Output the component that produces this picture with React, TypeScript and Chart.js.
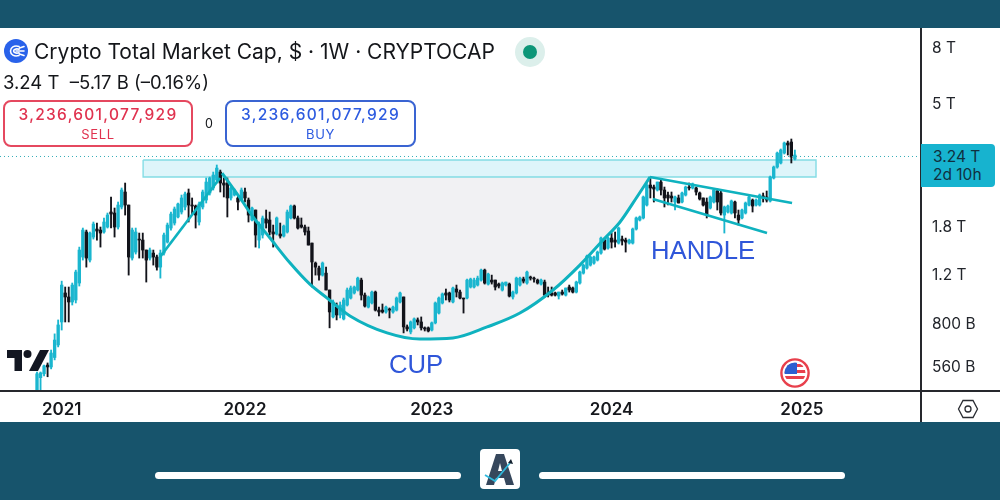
import React, { useEffect, useRef } from "react";
import { Chart, registerables } from "chart.js";

Chart.register(...registerables);

// Weekly candles, billions of USD. Candle k sits on week firstCandleWeek + k.
const firstCandleWeek = 10;
const totalWeeks = 261;

const opens = [
  463,513,530,570,561,607,674,816,1039,1005,
  964,980,1129,1402,1727,1367,1656,1770,1755,1727,
  1800,2040,2023,1800,2127,2410,2162,1390,1461,1628,
  1615,1486,1390,1449,1402,1289,1449,1588,1785,1861,
  1957,2040,2127,2390,2162,2144,1877,2127,2254,2390,
  2492,2663,2846,2597,2597,2293,2350,2293,2254,2410,
  2254,1908,2074,1615,1684,1925,1908,1727,1698,1698,
  1670,1727,1941,2144,1941,1830,1800,1741,1575,1333,
  1279,1206,1226,1065,851,924,865,837,940,996,
  1039,1065,1157,1021,924,956,1047,901,901,887,
  909,887,901,964,1005,783,751,777,830,816,
  777,777,763,810,879,956,1039,1039,964,1074,
  1047,996,996,1092,1092,1110,1157,1257,1119,1157,
  1157,1119,1065,1110,1119,1005,1039,1110,1167,1129,
  1186,1176,1157,1119,1138,1039,1039,1039,1013,1047,
  1021,1092,1083,1047,1129,1226,1279,1311,1333,1367,
  1449,1615,1511,1642,1615,1575,1628,1615,1575,1575,
  1770,1908,1941,2162,2554,2512,2450,2619,2450,2350,
  2331,2217,2293,2217,2350,2512,2492,2492,2390,2293,
  2217,2109,2217,2430,2390,1989,2040,2023,2217,1989,
  1941,2023,2162,2254,2162,2162,2331,2312,2236,2708,
  2967,3069,3335,3625,3655,3173,
];
const closes = [
  530,534,566,561,630,702,796,1110,1005,964,
  1110,1237,1486,1755,1390,1712,1846,1741,1712,1877,
  1989,2006,1800,2162,2450,2162,1402,1755,1727,1615,
  1486,1367,1486,1402,1289,1449,1684,1830,2006,2092,
  2181,2293,2370,2162,2144,1989,2181,2410,2619,2708,
  2776,2942,2597,2554,2293,2492,2450,2217,2450,2293,
  1989,2109,1684,1846,1941,1861,1727,1698,1941,1670,
  1815,2040,2144,1941,1785,1800,1727,1549,1345,1289,
  1206,1333,1065,887,964,865,940,980,1065,1083,
  1092,1176,1021,932,1005,1047,901,887,887,924,
  901,924,996,1039,783,770,816,837,816,777,
  770,757,810,956,996,1030,1021,980,1083,1047,
  996,988,1157,1167,1157,1176,1257,1129,1216,1138,
  1092,1101,1129,1138,1013,1047,1176,1176,1147,1237,
  1176,1167,1129,1157,1021,1021,1021,1021,1047,1030,
  1083,1065,1047,1138,1237,1311,1413,1402,1402,1461,
  1642,1498,1642,1588,1588,1785,1602,1588,1615,1770,
  1941,1957,2312,2554,2492,2471,2619,2450,2293,2293,
  2293,2312,2199,2390,2512,2492,2575,2410,2274,2162,
  1989,2312,2450,2217,2023,2127,2144,2236,2023,1908,
  2074,2199,2312,2144,2254,2350,2293,2254,2730,2967,
  3335,3419,3625,3565,3226,3280,
];
const highs = [
  538,538,570,580,646,739,830,1147,1092,1092,
  1129,1257,1523,1785,1755,1727,1877,1861,1800,1941,
  2023,2312,2109,2217,2492,2597,2162,1785,1785,1712,
  1712,1486,1511,1486,1425,1486,1712,1861,2040,2127,
  2199,2350,2410,2471,2293,2162,2217,2450,2708,2730,
  2846,3018,2894,2708,2708,2512,2471,2350,2492,2492,
  2293,2127,2074,1877,1973,2074,2040,1830,1957,1861,
  1830,2074,2162,2162,1973,1941,1830,1800,1575,1345,
  1300,1345,1289,1065,980,956,964,996,1083,1101,
  1101,1186,1176,1039,1013,1056,1056,924,948,932,
  917,932,1005,1047,1005,796,823,844,844,851,
  783,783,816,964,1005,1039,1074,1047,1092,1110,
  1065,996,1167,1176,1176,1196,1268,1268,1226,1206,
  1157,1129,1138,1138,1129,1056,1186,1186,1186,1247,
  1196,1186,1167,1167,1157,1092,1092,1047,1047,1065,
  1083,1110,1092,1147,1247,1322,1425,1413,1413,1474,
  1656,1642,1656,1712,1727,1800,1670,1642,1628,1785,
  1957,1973,2331,2597,2730,2554,2619,2663,2512,2410,
  2410,2331,2350,2410,2533,2597,2597,2512,2410,2293,
  2293,2331,2471,2471,2450,2144,2162,2254,2236,2074,
  2092,2217,2331,2274,2274,2370,2390,2430,2753,2992,
  3362,3449,3655,3685,3748,3419,
];
const lows = [
  455,463,521,517,552,595,663,763,816,816,
  940,956,1101,1367,1289,1345,1628,1615,1523,1712,
  1785,1785,1656,1770,2092,1989,1206,1367,1437,1390,
  1390,1138,1367,1311,1257,1176,1425,1575,1755,1830,
  1941,2006,2074,1877,1989,1785,1830,2092,2199,2350,
  2450,2597,2410,2312,1957,2254,2331,2074,2236,2217,
  1877,1893,1523,1511,1642,1785,1684,1523,1684,1642,
  1656,1712,1925,1925,1770,1785,1684,1549,1092,1206,
  1157,1196,1065,777,844,830,844,830,932,988,
  1030,1056,980,924,917,948,894,858,879,879,
  844,879,894,956,745,757,739,770,796,763,
  757,751,757,803,872,948,980,964,956,1005,
  988,879,988,1083,1083,1101,1147,1119,1110,1119,
  1065,1083,1056,1101,1005,988,1030,1101,1129,1119,
  1157,1138,1119,1110,1005,1005,1013,1013,988,1021,
  1013,1047,1039,1039,1119,1216,1268,1300,1322,1356,
  1437,1486,1498,1511,1523,1562,1549,1461,1562,1562,
  1755,1893,1925,2144,2293,2217,2430,2350,2127,2162,
  2217,2074,2199,2199,2331,2450,2471,2350,2254,2144,
  1941,2092,2199,2074,1989,1712,2023,2006,1941,1830,
  1925,2006,2144,2040,2144,2144,2217,2217,2217,2686,
  2940,3044,3307,3280,3069,3146,
];

// Axis ticks
const yearWeeks = [17, 69, 122, 173, 227];
const yearLabels = ["2021", "2022", "2023", "2024", "2025"];
const priceTicks = [560, 800, 1200, 1800, 5000, 8000];
const priceTickLabels = ["560 B", "800 B", "1.2 T", "1.8 T", "5 T", "8 T"];
const priceMin = 463;
const priceMax = 9451;

// Drawn pattern: week / price pairs
const cupWeeks = [62.5, 67.6, 71.3, 76.1, 81.8, 87.4, 92.3, 98.8, 109.3, 118.6, 128, 137.7, 147, 156.4, 164, 170.6, 175.4, 180.2, 183.9];
const cupPrices = [2823, 2293, 1957, 1642, 1333, 1118, 996, 858, 745, 708, 714, 783, 879, 1065, 1311, 1615, 1877, 2312, 2730];
const riseWeeks = [44.9, 61.9];
const risePrices = [1402, 2708];
const handleTopWeeks = [183.9, 224.2];
const handleTopPrices = [2730, 2199];
const handleLowWeeks = [184.7, 217.1];
const handleLowPrices = [2274, 1712];
const zoneWeeks = [40.1, 231];
const zonePrices = [3146, 2730];
const lastPrice = 3240;

const UP = "#1ab6cf";
const DOWN = "#12131a";
const LINE = "#0fb2bf";

const pairs = (xs: number[], ys: number[]) => xs.map((x, i) => ({ x, y: ys[i] }));

function App() {
  const ref = useRef<HTMLCanvasElement | null>(null);

  useEffect(() => {
    document.body.style.margin = "0";
    const colours = closes.map((c, i) => (c >= opens[i] ? UP : DOWN));
    const lineDefaults = { type: "line", pointRadius: 0, fill: false, borderColor: LINE, borderWidth: 2.7 };
    const chart = new Chart(ref.current as HTMLCanvasElement, {
      type: "bar",
      data: {
        datasets: [
          {
            ...lineDefaults,
            label: "Last price",
            data: [{ x: -0.5, y: lastPrice }, { x: totalWeeks - 0.5, y: lastPrice }],
            borderColor: "#35aeb9",
            borderWidth: 1,
            borderDash: [1, 3],
            order: 1,
          },
          {
            ...lineDefaults,
            label: "Cup",
            data: pairs(cupWeeks, cupPrices),
            cubicInterpolationMode: "monotone",
            borderWidth: 3,
            fill: { value: zonePrices[1] },
            backgroundColor: "#f1f1f3",
            order: 2,
          },
          { ...lineDefaults, label: "Rise", data: pairs(riseWeeks, risePrices), order: 2 },
          { ...lineDefaults, label: "Handle top", data: pairs(handleTopWeeks, handleTopPrices), order: 2 },
          { ...lineDefaults, label: "Handle low", data: pairs(handleLowWeeks, handleLowPrices), order: 2 },
          {
            type: "bar",
            label: "Bodies",
            data: closes.map((c, i) => ({ x: firstCandleWeek + i, y: [opens[i], c] })),
            backgroundColor: colours,
            barThickness: 2.7,
            grouped: false,
            order: 3,
          },
          {
            type: "bar",
            label: "Wicks",
            data: highs.map((h, i) => ({ x: firstCandleWeek + i, y: [lows[i], h] })),
            backgroundColor: colours,
            barThickness: 1.2,
            grouped: false,
            order: 4,
          },
          {
            ...lineDefaults,
            label: "Resistance zone",
            data: [
              { x: zoneWeeks[0], y: zonePrices[0] },
              { x: zoneWeeks[1], y: zonePrices[0] },
              { x: zoneWeeks[1], y: zonePrices[1] },
              { x: zoneWeeks[0], y: zonePrices[1] },
              { x: zoneWeeks[0], y: zonePrices[0] },
            ],
            fill: "shape",
            backgroundColor: "rgba(190,236,246,0.5)",
            borderColor: "#84dde5",
            borderWidth: 1.4,
            order: 5,
          },
        ],
      },
      options: {
        responsive: false,
        animation: false,
        events: [],
        layout: { padding: { top: 28, bottom: 78, left: 0, right: 0 } },
        plugins: {
          legend: { display: false },
          tooltip: { enabled: false },
          title: { display: false },
          filler: { drawTime: "beforeDatasetsDraw" },
        },
        scales: {
          x: {
            type: "linear",
            offset: false,
            min: -0.5,
            max: totalWeeks - 0.5,
            grid: { display: false, drawTicks: false, offset: false },
            border: { display: false },
            afterFit: (s: any) => { s.height = 32; },
            afterBuildTicks: (s: any) => { s.ticks = yearWeeks.map((value) => ({ value })); },
            ticks: {
              autoSkip: false,
              maxRotation: 0,
              padding: 10,
              color: "#16181d",
              font: { family: "Inter", size: 17, weight: "600" },
              callback: (v: any) => yearLabels[yearWeeks.indexOf(Number(v))] ?? "",
            },
          },
          y: {
            type: "logarithmic",
            position: "right",
            min: priceMin,
            max: priceMax,
            grid: { display: false, drawTicks: false },
            border: { display: false },
            afterFit: (s: any) => { s.width = 80; },
            afterBuildTicks: (s: any) => { s.ticks = priceTicks.map((value) => ({ value })); },
            ticks: {
              autoSkip: false,
              padding: 12,
              crossAlign: "near",
              color: "#22252b",
              font: { family: "Inter", size: 15.5, weight: "400" },
              callback: (v: any) => priceTickLabels[priceTicks.indexOf(Number(v))] ?? "",
            },
          },
        },
      },
    } as any);
    return () => chart.destroy();
  }, []);

  const abs = (s: React.CSSProperties): React.CSSProperties => ({ position: "absolute", ...s });
  const inter = "Inter, sans-serif";

  return (
    <div style={abs({ left: 0, top: 0, width: 1000, height: 500, background: "#17546c", overflow: "hidden", fontFamily: inter })}>
      <div style={abs({ left: 0, top: 28, width: 1000, height: 394, background: "#ffffff" })} />
      <canvas ref={ref} width={1000} height={500} style={abs({ left: 0, top: 0, width: 1000, height: 500 })} />

      {/* axis frame */}
      <div style={abs({ left: 0, top: 390, width: 1000, height: 1.5, background: "#26282d" })} />
      <div style={abs({ left: 920, top: 28, width: 1.5, height: 394, background: "#26282d" })} />

      {/* header */}
      <svg style={abs({ left: 4, top: 39, width: 24, height: 24 })} viewBox="0 0 24 24">
        <circle cx="12" cy="12" r="12" fill="#2962ea" />
        <path d="M15 7.5 C10 6 6.5 8.5 6.5 12 C6.5 15.5 10 18 15 16.5 M15 10.2 C12 9.4 9.6 10.4 9.6 12 C9.6 13.6 12 14.6 15 13.8 M12 12 H20 M15.5 9 L20 7.5 M15.5 15 L20 16.5" stroke="#ffffff" strokeWidth="1.6" fill="none" strokeLinecap="round" />
      </svg>
      <div style={abs({ left: 34, top: 38, fontSize: 21, lineHeight: "28px", color: "#14161a", whiteSpace: "nowrap" })}>Crypto Total Market Cap, $ · 1W · CRYPTOCAP</div>
      <div style={abs({ left: 515, top: 37, width: 30, height: 30, borderRadius: 15, background: "#dcefeb" })} />
      <div style={abs({ left: 523, top: 45, width: 14, height: 14, borderRadius: 7, background: "#0d9678" })} />
      <div style={abs({ left: 3, top: 71, fontSize: 18.5, lineHeight: "22px", color: "#14161a", whiteSpace: "pre" })}>3.24 T  –5.17 B (–0.16%)</div>

      {/* order boxes */}
      <div style={abs({ left: 3, top: 100, width: 186, height: 43, border: "2px solid #e5485f", borderRadius: 8, background: "#fff", textAlign: "center", color: "#e0324f" })}>
        <div style={{ fontSize: 15.5, lineHeight: "18px", marginTop: 4, letterSpacing: 1.3, fontWeight: 500 }}>3,236,601,077,929</div>
        <div style={{ fontSize: 13, lineHeight: "16px", letterSpacing: 0.6, marginTop: 2 }}>SELL</div>
      </div>
      <div style={abs({ left: 201, top: 116, width: 16, textAlign: "center", fontSize: 12.5, lineHeight: "16px", color: "#14161a" })}>0</div>
      <div style={abs({ left: 225, top: 100, width: 187, height: 43, border: "2px solid #3a64d2", borderRadius: 8, background: "#fff", textAlign: "center", color: "#2d5be0" })}>
        <div style={{ fontSize: 15.5, lineHeight: "18px", marginTop: 4, letterSpacing: 1.3, fontWeight: 500 }}>3,236,601,077,929</div>
        <div style={{ fontSize: 13, lineHeight: "16px", letterSpacing: 0.6, marginTop: 2 }}>BUY</div>
      </div>

      {/* price tag */}
      <div style={abs({ left: 921, top: 144, width: 74, height: 43, background: "#17b3cf", borderRadius: "0 4px 4px 0" })} />
      <div style={abs({ left: 933, top: 147, fontSize: 15.5, lineHeight: "19px", color: "#10303f", whiteSpace: "nowrap" })}>3.24 T</div>
      <div style={abs({ left: 933, top: 165, fontSize: 15.5, lineHeight: "19px", color: "#10303f", whiteSpace: "nowrap" })}>2d 10h</div>

      {/* chart labels */}
      <div style={abs({ left: 651, top: 234, fontFamily: "Liberation Sans", fontSize: 25.7, lineHeight: "32px", color: "#2f56d9", whiteSpace: "nowrap" })}>HANDLE</div>
      <div style={abs({ left: 389, top: 348, fontFamily: "Liberation Sans", fontSize: 25.7, lineHeight: "32px", color: "#2f56d9", whiteSpace: "nowrap" })}>CUP</div>

      {/* TradingView mark */}
      <svg style={abs({ left: 7, top: 350, width: 42, height: 22 })} viewBox="0 0 42 22">
        <path d="M0 0 H15 V21 H7.5 V8 H0 Z" fill="#131722" />
        <circle cx="20.5" cy="4" r="4" fill="#131722" />
        <path d="M33 0 H42 L31 21 H22 Z" fill="#131722" />
      </svg>

      {/* flag badge */}
      <svg style={abs({ left: 780, top: 358, width: 30, height: 30 })} viewBox="0 0 30 30">
        <circle cx="15" cy="15" r="13.6" fill="#fff" stroke="#e8404c" strokeWidth="2.4" />
        <clipPath id="flagclip"><circle cx="15" cy="15" r="10.5" /></clipPath>
        <g clipPath="url(#flagclip)">
          <rect x="4" y="4" width="22" height="22" fill="#fff" />
          <rect x="4" y="6" width="22" height="3" fill="#e8404c" />
          <rect x="4" y="12" width="22" height="3" fill="#e8404c" />
          <rect x="4" y="18" width="22" height="3" fill="#e8404c" />
          <rect x="4" y="4" width="13" height="12" fill="#2c5fd0" />
        </g>
      </svg>

      {/* settings hexagon */}
      <svg style={abs({ left: 957, top: 399, width: 22, height: 20 })} viewBox="0 0 22 20">
        <path d="M6 1.5 H16 L20.5 10 L16 18.5 H6 L1.5 10 Z" fill="none" stroke="#2a2d33" strokeWidth="1.3" />
        <circle cx="11" cy="10" r="3" fill="none" stroke="#2a2d33" strokeWidth="1.3" />
      </svg>

      {/* bottom bars and logo */}
      <div style={abs({ left: 155, top: 472, width: 306, height: 7, borderRadius: 4, background: "#fff" })} />
      <div style={abs({ left: 539, top: 472, width: 306, height: 7, borderRadius: 4, background: "#fff" })} />
      <svg style={abs({ left: 480, top: 449, width: 40, height: 40 })} viewBox="0 0 40 40">
        <rect width="40" height="40" rx="4" fill="#fff" />
        <path d="M6 36 L16 5 H24 L34 36 H26 L24 29 H16 L14 36 Z M18 22 H22 L20 14 Z" fill="#36475c" fillRule="evenodd" />
        <path d="M5 26 L15 32 L30 14" fill="none" stroke="#2fb8dc" strokeWidth="1.8" />
        <path d="M31 10 L33 15 L28 14 Z" fill="#12202e" />
      </svg>
    </div>
  );
}

export default App;
